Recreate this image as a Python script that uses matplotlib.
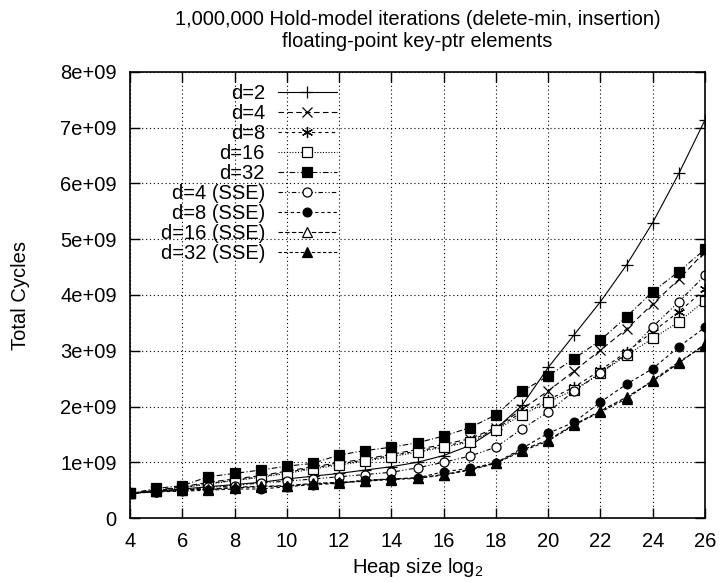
import matplotlib
matplotlib.use("Agg")
import matplotlib.pyplot as plt
from matplotlib.ticker import FixedLocator, FixedFormatter

plt.rcParams['font.family'] = ['Liberation Sans', 'DejaVu Sans']

heap_log2 = list(range(4, 27))

d2 = [0.44, 0.48, 0.52, 0.56, 0.60, 0.64, 0.70, 0.75, 0.80, 0.86, 0.92, 1.00, 1.12,
      1.30, 1.60, 2.02, 2.70, 3.29, 3.88, 4.54, 5.30, 6.18, 7.14]
d4 = [0.44, 0.50, 0.56, 0.64, 0.70, 0.76, 0.84, 0.92, 0.99, 1.06, 1.14, 1.23, 1.32,
      1.42, 1.62, 1.95, 2.28, 2.64, 3.01, 3.39, 3.84, 4.28, 4.78]
d8 = [0.44, 0.49, 0.55, 0.62, 0.68, 0.74, 0.82, 0.90, 0.97, 1.04, 1.12, 1.20, 1.29,
      1.38, 1.60, 1.90, 2.12, 2.35, 2.65, 2.98, 3.34, 3.70, 4.10]
d16 = [0.44, 0.49, 0.54, 0.61, 0.67, 0.73, 0.80, 0.88, 0.95, 1.02, 1.10, 1.18, 1.27,
       1.36, 1.58, 1.85, 2.08, 2.30, 2.60, 2.92, 3.22, 3.52, 3.90]
d32 = [0.44, 0.53, 0.58, 0.74, 0.80, 0.86, 0.93, 0.98, 1.13, 1.21, 1.27, 1.35, 1.47,
       1.62, 1.85, 2.27, 2.55, 2.86, 3.19, 3.61, 4.06, 4.42, 4.82]
d4_sse = [0.44, 0.47, 0.50, 0.55, 0.58, 0.63, 0.66, 0.70, 0.74, 0.78, 0.82, 0.90, 1.00,
          1.11, 1.27, 1.60, 1.90, 2.28, 2.60, 2.95, 3.43, 3.88, 4.35]
d8_sse = [0.44, 0.47, 0.48, 0.50, 0.52, 0.52, 0.56, 0.60, 0.62, 0.68, 0.70, 0.72, 0.83,
          0.89, 0.99, 1.25, 1.52, 1.72, 2.08, 2.40, 2.68, 3.07, 3.42]
d16_sse = [0.44, 0.48, 0.50, 0.52, 0.55, 0.57, 0.58, 0.62, 0.64, 0.67, 0.70, 0.72, 0.78,
           0.87, 0.99, 1.22, 1.40, 1.68, 1.92, 2.17, 2.45, 2.78, 3.12]
d32_sse = [0.44, 0.48, 0.50, 0.51, 0.54, 0.56, 0.57, 0.61, 0.63, 0.66, 0.69, 0.71, 0.77,
           0.86, 0.98, 1.20, 1.38, 1.67, 1.90, 2.14, 2.47, 2.80, 3.10]

labels = ["d=2", "d=4", "d=8", "d=16", "d=32",
          "d=4 (SSE)", "d=8 (SSE)", "d=16 (SSE)", "d=32 (SSE)"]
series = [d2, d4, d8, d16, d32, d4_sse, d8_sse, d16_sse, d32_sse]

x_ticks = list(range(4, 27, 2))
y_ticks = [0, 1e9, 2e9, 3e9, 4e9, 5e9, 6e9, 7e9, 8e9]
y_tick_labels = ["0", "1e+09", "2e+09", "3e+09", "4e+09", "5e+09", "6e+09", "7e+09", "8e+09"]

styles = [
    dict(linestyle='-', marker='+', mfc='black', ms=9, mew=0.9),
    dict(linestyle=(0, (5, 3)), marker='x', mfc='black', ms=7, mew=0.9),
    dict(linestyle=(0, (3, 3)), marker=(6, 2, 0), mfc='black', ms=8, mew=0.9),
    dict(linestyle=(0, (1, 1.5)), marker='s', mfc='white', ms=6.5, mew=0.9),
    dict(linestyle=(0, (5, 2, 1, 2)), marker='s', mfc='black', ms=7.5, mew=0.9),
    dict(linestyle=(0, (4, 2, 1, 2, 1, 2)), marker='o', mfc='white', ms=6.5, mew=0.9),
    dict(linestyle=(0, (3, 2.5)), marker='o', mfc='black', ms=6.3, mew=0.9),
    dict(linestyle=(0, (4, 2)), marker='^', mfc='white', ms=6.5, mew=0.9),
    dict(linestyle=(0, (3, 2)), marker='^', mfc='black', ms=6.5, mew=0.9),
]

FS = 14.5

fig = plt.figure(figsize=(7.19, 5.82), dpi=100)
ax = fig.add_axes([130 / 719, (582 - 518) / 582, 575 / 719, 446 / 582])

for vals, lab, st in zip(series, labels, styles):
    ax.plot(heap_log2, [v * 1e9 for v in vals], color='black', linewidth=0.8,
            mec='black', label=lab, **st)

ax.set_xlim(4, 26)
ax.set_ylim(0, 8e9)
ax.xaxis.set_major_locator(FixedLocator(x_ticks))
ax.yaxis.set_major_locator(FixedLocator(y_ticks))
ax.yaxis.set_major_formatter(FixedFormatter(y_tick_labels))
ax.tick_params(direction='in', length=7, width=1.0, top=True, right=True,
               labelsize=FS)
ax.tick_params(axis='y', pad=9.5)
ax.tick_params(axis='x', pad=10)
ax.grid(True, linestyle=(0, (1, 2.5)), color='black', linewidth=0.8)
for sp in ax.spines.values():
    sp.set_linewidth(1.2)

ax.set_xlabel("Heap size log$_{\\mathregular{2}}$", fontsize=FS, labelpad=3.5)
ax.set_ylabel("Total Cycles", fontsize=FS, labelpad=22)
ax.set_title("1,000,000 Hold-model iterations (delete-min, insertion)\n"
             "floating-point key-ptr elements", fontsize=FS, pad=18,
             linespacing=1.2)

leg = ax.legend(loc='upper right', bbox_to_anchor=((337 - 130) / 575, (518 - 84) / 446),
                frameon=False, markerfirst=False, fontsize=FS, handlelength=2.93,
                handletextpad=0.65, labelspacing=0.05, borderpad=0, borderaxespad=0)
for t in leg.get_texts():
    t.set_ha('right')

fig.savefig("out.png", dpi=100)
